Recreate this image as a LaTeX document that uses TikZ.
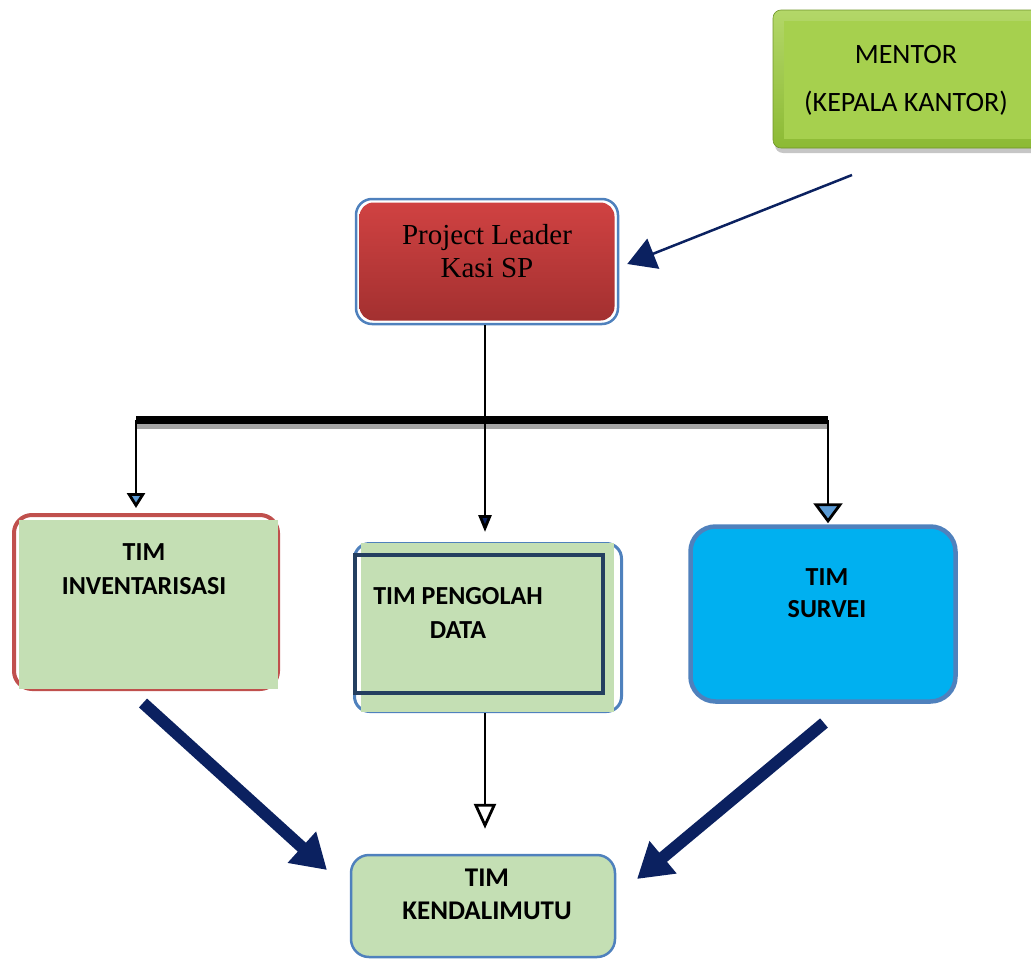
\documentclass[tikz,border=0pt]{standalone}
\usepackage{fontspec}
\setmainfont{Carlito}
\newfontfamily\timesf{Liberation Serif}
\usetikzlibrary{arrows.meta,shadows}
\definecolor{navy}{HTML}{0B2160}
\definecolor{steel}{HTML}{4F81BD}
\definecolor{pale}{HTML}{C4DFB4}
\definecolor{redb}{HTML}{C0504D}
\definecolor{cyanf}{HTML}{00B0F0}
\definecolor{darkframe}{HTML}{243F60}
\definecolor{tipblue}{HTML}{5B9BD5}
\definecolor{mgreenA}{HTML}{A6D04E}
\definecolor{mgreenB}{HTML}{8CBA34}
\definecolor{plTop}{HTML}{D04242}
\definecolor{plBot}{HTML}{A33030}
\begin{document}
\begin{tikzpicture}[x=1pt,y=-1pt,
  lbl/.style={font=\fontsize{26}{34}\selectfont\bfseries, align=center, inner sep=0pt},
  conn/.style={draw=black, line width=2.8pt},
  bignavy/.style={draw=navy, line width=12pt, -{Triangle[length=34pt 0, width=40pt 0]}},
]
\useasboundingbox (0,0) rectangle (1031,961);

% ---------- MENTOR ----------
\node[draw=mgreenB!80!black, line width=0.6pt, rounded corners=8pt, top color=mgreenA!85!white, bottom color=mgreenB,
      drop shadow={shadow xshift=2pt, shadow yshift=-5pt, opacity=0.45},
      minimum width=268pt, minimum height=138pt] (mentor) at (907,79) {};
\node[fill=mgreenA, minimum width=250pt, minimum height=118pt] (mentorin) at (909,80) {};
\node[font=\fontsize{28}{48}\selectfont, align=center, inner sep=0pt] (mentortxt) at (906,80)
  {MENTOR\\(KEPALA KANTOR)};

% ---------- PROJECT LEADER ----------
\node[draw=steel, line width=2.5pt, fill=white, rounded corners=16pt,
      minimum width=262pt, minimum height=125pt] (pl) at (487,261.5) {};
\node[rounded corners=14pt, top color=plTop, bottom color=plBot,
      minimum width=255pt, minimum height=118pt] (plin) at (487,261.5) {};
\node[font=\timesf\fontsize{29}{33}\selectfont, align=center, inner sep=0pt] (pltxt) at (487,251)
  {Project Leader\\Kasi SP};

% ---------- TIM INVENTARISASI ----------
\node[draw=redb, line width=4pt, rounded corners=18pt,
      minimum width=264pt, minimum height=174pt] (inv) at (146,602) {};
\node[fill=pale, minimum width=259pt, minimum height=169pt] (invin) at (148.5,604.5) {};
\node[lbl] (invtxt) at (144,569) {TIM\\INVENTARISASI};

% ---------- TIM PENGOLAH DATA ----------
\node[draw=steel, line width=3pt, rounded corners=15pt,
      minimum width=267pt, minimum height=168pt] (pd) at (488,627.5) {};
\node[fill=pale, minimum width=253pt, minimum height=169pt] (pdin) at (487.5,627.5) {};
\node[draw=darkframe, line width=4.5pt,
      minimum width=248pt, minimum height=138pt] (pdframe) at (479,624) {};
\node[lbl] (pdtxt) at (458,613) {TIM PENGOLAH\\DATA};

% ---------- TIM SURVEI ----------
\node[draw=steel, fill=cyanf, line width=4.5pt, rounded corners=25pt,
      minimum width=265pt, minimum height=175pt] (sv) at (823,614) {};
\node[lbl, font=\fontsize{26}{32}\selectfont\bfseries] (svtxt) at (827,593) {TIM\\SURVEI};

% ---------- TIM KENDALIMUTU ----------
\node[draw=steel, fill=pale, line width=2.5pt, rounded corners=18pt,
      minimum width=264pt, minimum height=102pt] (km) at (483,906) {};
\node[lbl, font=\fontsize{27}{33}\selectfont\bfseries] (kmtxt) at (487,894) {TIM\\KENDALIMUTU};

% ---------- connectors ----------
\coordinate (mentorfoot) at (852,175);
\draw[draw=navy, line width=2.5pt, -{Triangle[length=28pt 0, width=32pt 0]}]
  (mentorfoot) -- ([xshift=8pt,yshift=-2.5pt]pl.east);

\coordinate (barL) at (136,420);
\coordinate (barR) at (828,420);
\draw[gray!70, line width=6pt] ([yshift=-6pt]barL) -- ([yshift=-6pt]barR);
\draw[black, line width=8pt] (barL) -- (barR);

\coordinate (pdtop) at (485,542);
\draw[conn, -{Triangle[length=17pt 0, width=13pt 0, fill=navy]}]
  (pdtop |- pl.south) -- ([yshift=10pt]pdtop);

\path (barL |- inv.north) coordinate (invtop);
\draw[conn, -{Triangle[length=15pt 0, width=18pt 0, fill=tipblue]}]
  (barL) -- ([yshift=5pt]invtop);

\path (barR |- sv.north) coordinate (svtop);
\draw[conn, -{Triangle[length=20pt 0, width=29pt 0, fill=tipblue]}]
  (barR) -- ([yshift=1pt]svtop);

\path (pdtop |- pd.south) coordinate (pdbot);
\path (pdtop |- km.north) coordinate (kmtop);
\draw[conn, -{Triangle[length=25pt 0, width=22pt 0, fill=white]}]
  (pdbot) -- ([yshift=25pt]kmtop);

\coordinate (invfoot) at (143,703);
\coordinate (kmleft) at (327,870);
\draw[bignavy] (invfoot) -- (kmleft);

\coordinate (svfoot) at (824,723);
\coordinate (kmright) at (637,879);
\draw[bignavy] (svfoot) -- (kmright);
\end{tikzpicture}
\end{document}
